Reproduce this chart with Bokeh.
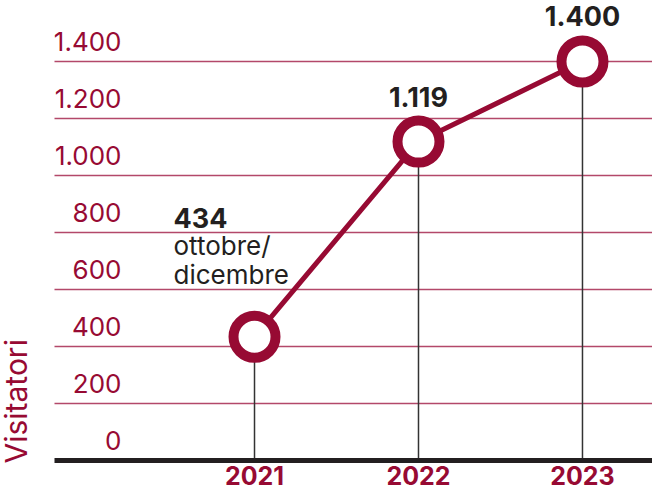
from bokeh.plotting import figure
from bokeh.models import Range1d, ColumnDataSource
from bokeh.core.properties import value
from bokeh.embed import file_html
from bokeh.resources import INLINE
import math

# ---- data ----
years = [2021, 2022, 2023]
visitors = [434, 1119, 1400]
value_labels = ["434", "1.119", "1.400"]
note_text = "ottobre/\ndicembre"
year_labels = ["2021", "2022", "2023"]
y_ticks = [0, 200, 400, 600, 800, 1000, 1200, 1400]
y_tick_labels = [f"{v:,}".replace(",", ".") for v in y_ticks]
axis_title = "Visitatori"

MAROON = "#970a33"
GRID = "#a01a45"
DARK = "#231f20"

W, H = 652, 488
x0, x1 = 2019.451, 2023.427
y0, y1 = -98.2, 1614
px_per_x = W / (x1 - x0)


def px_to_x(px):
    return x0 + px / px_per_x


p = figure(width=W, height=H, output_backend="svg", toolbar_location=None,
           x_range=Range1d(x0, x1), y_range=Range1d(y0, y1),
           x_axis_location=None, y_axis_location=None,
           min_border=0, min_border_left=0, min_border_right=0,
           min_border_top=0, min_border_bottom=0)
p.outline_line_color = None
p.xgrid.visible = False
p.ygrid.visible = False
p.background_fill_color = "white"
p.border_fill_color = "white"

left = px_to_x(54)
right = x1

# gridlines (except 0)
grid_src = ColumnDataSource(dict(y=y_ticks[1:]))
p.segment(x0=left, y0="y", x1=right, y1="y", source=grid_src,
          line_color=GRID, line_width=1.5, line_alpha=0.8)

# tick labels above gridlines
tick_src = ColumnDataSource(dict(y=y_ticks, t=y_tick_labels))
p.text(x=px_to_x(121), y="y", text="t", source=tick_src,
       text_align="right", text_baseline="alphabetic", y_offset=-20,
       text_color=MAROON, text_font=value("Inter"), text_font_size="26px")

# axis title
p.text(x=[px_to_x(15)], y=[0], text=[axis_title], angle=math.pi / 2,
       text_align="left", text_baseline="middle", y_offset=3,
       text_color=MAROON, text_font=value("Inter"), text_font_size="30px")

# drop lines
drop_src = ColumnDataSource(dict(x=years, y=visitors, z=[0] * len(years)))
p.segment(x0="x", y0="z", x1="x", y1="y", source=drop_src,
          line_color="#333333", line_width=1.5)

# baseline
p.segment(x0=[left], y0=[0], x1=[right], y1=[0],
          line_color=DARK, line_width=5)

# series
src = ColumnDataSource(dict(x=years, y=visitors, lab=value_labels, yl=year_labels))
p.line("x", "y", source=src, line_color=MAROON, line_width=5)
p.scatter("x", "y", source=src, size=42, line_width=10,
          line_color=MAROON, fill_color="white")

# value labels (2022, 2023 centered above)
lab_src = ColumnDataSource(dict(x=years[1:], y=visitors[1:], t=value_labels[1:]))
p.text(x="x", y="y", text="t", source=lab_src, text_align="center",
       text_baseline="alphabetic", y_offset=-45,
       text_color=DARK, text_font=value("Inter"), text_font_style="bold",
       text_font_size="27px")

# 2021 label with note
p.text(x=[years[0]], y=[visitors[0]], text=[value_labels[0]],
       text_align="left", text_baseline="alphabetic",
       x_offset=-81, y_offset=-119,
       text_color=DARK, text_font=value("Inter"), text_font_style="bold",
       text_font_size="27px")
note_lines = note_text.split("\n")
p.text(x=[years[0]] * len(note_lines), y=[visitors[0]] * len(note_lines),
       text=note_lines, text_align="left", text_baseline="alphabetic",
       x_offset=-81, y_offset=[-91, -62],
       text_color=DARK, text_font=value("Inter"), text_font_size="26px")

# year labels
p.text(x="x", y=0, text="yl", source=src, text_align="center",
       text_baseline="alphabetic", y_offset=15,
       text_color=MAROON, text_font=value("Inter"), text_font_style="bold",
       text_font_size="25px")

open("out.html", "w").write(file_html(p, INLINE))
